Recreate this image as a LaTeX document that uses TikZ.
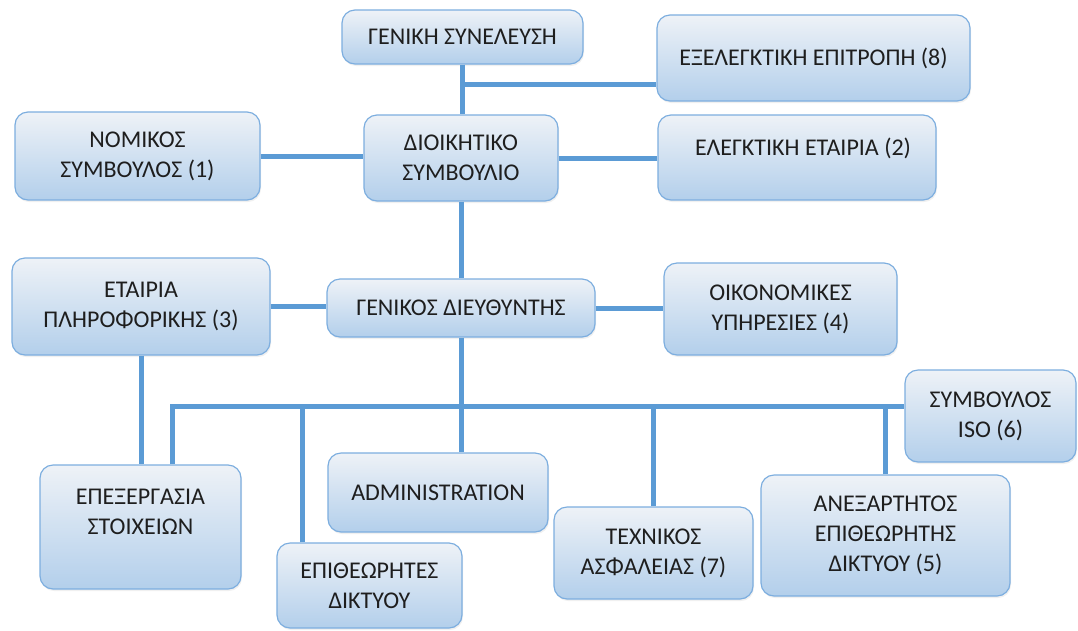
\documentclass[tikz,border=0pt]{standalone}
\usepackage{fontspec}
\setmainfont{Carlito}
\usetikzlibrary{shadows}
\definecolor{boxtop}{HTML}{EEF2F7}
\definecolor{boxmid}{HTML}{CADCEE}
\definecolor{boxbot}{HTML}{B3CFEB}
\definecolor{boxline}{HTML}{7DAEDF}
\definecolor{conn}{HTML}{5B9BD5}
\definecolor{ink}{HTML}{1E1E1E}
\tikzset{
  orgbox/.style={draw=boxline, line width=1.2pt, rounded corners=13pt,
    top color=boxtop, middle color=boxmid, bottom color=boxbot,
    drop shadow={opacity=0.12, shadow xshift=1pt, shadow yshift=-2pt},
    align=center, text=ink, inner sep=0pt,
    font=\fontsize{24}{30}\selectfont},
  orgline/.style={draw=conn, line width=5pt}
}
\begin{document}
\begin{tikzpicture}[x=1pt,y=-1pt]
      \useasboundingbox (0,0) rectangle (1078,630);
      \path
        (462.5,37) node[orgbox, minimum width=241, minimum height=54] (gs){ΓΕΝΙΚΗ ΣΥΝΕΛΕΥΣΗ}
        (813.5,58) node[orgbox, minimum width=313, minimum height=86] (ee){ΕΞΕΛΕΓΚΤΙΚΗ ΕΠΙΤΡΟΠΗ (8)}
        (461,158) node[orgbox, minimum width=194, minimum height=86] (ds){ΔΙΟΙΚΗΤΙΚΟ\\ΣΥΜΒΟΥΛΙΟ}
        (137.5,156) node[orgbox, minimum width=245, minimum height=88] (nom){ΝΟΜΙΚΟΣ\\ΣΥΜΒΟΥΛΟΣ (1)}
        (797,157.5) node[orgbox, minimum width=278, minimum height=85] (el){\hspace*{12pt}ΕΛΕΓΚΤΙΚΗ ΕΤΑΙΡΙΑ (2)\\[-8pt]~}
        (141,306.5) node[orgbox, minimum width=258, minimum height=97] (et){ΕΤΑΙΡΙΑ\\ΠΛΗΡΟΦΟΡΙΚΗΣ (3)}
        (461,308) node[orgbox, minimum width=268, minimum height=58] (gd){ΓΕΝΙΚΟΣ ΔΙΕΥΘΥΝΤΗΣ}
        (780.5,309) node[orgbox, minimum width=233, minimum height=92] (oik){ΟΙΚΟΝΟΜΙΚΕΣ\\ΥΠΗΡΕΣΙΕΣ (4)}
        (990.5,416) node[orgbox, minimum width=171, minimum height=92] (iso){ΣΥΜΒΟΥΛΟΣ\\ISO (6)}
        (140.5,527) node[orgbox, minimum width=201, minimum height=124] (epx){ΕΠΕΞΕΡΓΑΣΙΑ\\ΣΤΟΙΧΕΙΩΝ\\~}
        (438,492.5) node[orgbox, minimum width=220, minimum height=79] (adm){ADMINISTRATION}
        (369.5,585.5) node[orgbox, minimum width=185, minimum height=85] (epi){ΕΠΙΘΕΩΡΗΤΕΣ\\ΔΙΚΤΥΟΥ}
        (653.5,553) node[orgbox, minimum width=199, minimum height=92] (tex){ΤΕΧΝΙΚΟΣ\\ΑΣΦΑΛΕΙΑΣ (7)}
        (885.5,535.5) node[orgbox, minimum width=249, minimum height=121] (anx){ΑΝΕΞΑΡΤΗΤΟΣ\\ΕΠΙΘΕΩΡΗΤΗΣ\\ΔΙΚΤΥΟΥ (5)};
      \coordinate (j1) at ([yshift=-20pt]gs.south);
      \coordinate (bus) at ([yshift=-69pt]gd.south);
      \coordinate (bl) at ([xshift=31.5pt]epx.north);
      \coordinate (bi) at ([xshift=-67.5pt]epi.north);
      \begin{scope}[orgline]
        \draw (gs.south) -- (gs.south |- ds.north);
        \draw (j1) -- (j1 -| ee.west);
        \draw (nom.east) -- (nom.east -| ds.west);
        \draw (ds.east) -- (ds.east -| el.west);
        \draw (ds.south) -- (ds.south |- gd.north);
        \draw (et.east) -- (et.east -| gd.west);
        \draw (gd.east) -- (gd.east -| oik.west);
        \draw (et.south) -- (et.south |- epx.north);
        \draw (gd.south) -- (gd.south |- adm.north);
        \draw (bl) |- (bus) -- (bus -| iso.west);
        \draw (bi) -- (bi |- bus);
        \draw (tex.north) -- (tex.north |- bus);
        \draw (anx.north) -- (anx.north |- bus);
      \end{scope}
\end{tikzpicture}
\end{document}
